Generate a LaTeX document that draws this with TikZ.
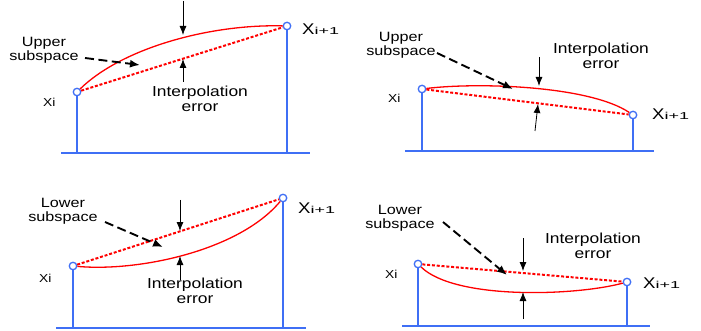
\documentclass[tikz,border=0pt]{standalone}
\usepackage{fontspec}
\newfontfamily\lblfont[FakeStretch=1.2]{Liberation Sans}
\newfontfamily\idxfont[FakeStretch=1.8]{Liberation Sans}
\usetikzlibrary{arrows.meta}
\definecolor{stemblue}{HTML}{3F6FF5}
\definecolor{curvered}{HTML}{FF0000}
\newcommand\xnext{X{\fontsize{10}{11}\idxfont i+1}}

\begin{document}
\begin{tikzpicture}[x=1pt, y=-1pt,
  stem/.style={stemblue, line width=1.6pt},
  pin/.style={circle, draw=stemblue, fill=white, line width=1.3pt,
              inner sep=0pt, minimum size=7.5pt},
  fitcurve/.style={curvered, line width=1.3pt},
  chord/.style={curvered, line width=2pt, dash pattern=on 3pt off 1.8pt},
  err/.style={-{Latex[length=9pt,width=7pt]}, line width=0.8pt},
  hint/.style={-{Latex[length=10pt,width=8pt]}, line width=1.9pt,
               dash pattern=on 9pt off 4.5pt},
  lbl/.style={font=\fontsize{13.5}{14}\lblfont, align=center},
  errlbl/.style={font=\fontsize{14.5}{15.5}\lblfont, align=center},
  xsmall/.style={font=\fontsize{11.5}{12}\lblfont, anchor=base west, inner sep=0pt},
  xbig/.style={font=\fontsize{15.5}{16}\lblfont, anchor=base west, inner sep=0pt}]
  \useasboundingbox (0,0) rectangle (701,331);

  % upper subspace, rising
  \coordinate (b1l) at (61,153); \coordinate (b1r) at (310,153);
  \node[pin] (p1a) at (77,92) {};
  \node[pin] (p1b) at (287,26) {};
  \draw[stem] (b1l) -- (b1r);
  \draw[stem] (p1a) -- (p1a |- b1l);
  \draw[stem] (p1b) -- (p1b |- b1l);
  \draw[fitcurve] (p1a) .. controls (122,48) and (210,24) .. (p1b);
  \draw[chord] (p1a) -- (p1b);
  \coordinate (e1t) at (183,1); \coordinate (e1c) at (183,35);
  \coordinate (e1b) at (183,82); \coordinate (e1l) at (183,59);
  \draw[err] (e1t) -- (e1c);
  \draw[err] (e1b) -- (e1l);
  \coordinate (h1s) at (85,58); \coordinate (h1e) at (140,65);
  \draw[hint] (h1s) -- (h1e);
  \node[lbl] (up1) at (44,50) {Upper\\subspace};
  \node[errlbl] (ie1) at (200,99) {Interpolation\\error};
  \node[xsmall] (xi1) at (43,107) {Xi};
  \node[xbig] (xn1) at (302,35) {\xnext};

  % upper subspace, falling
  \coordinate (b2l) at (405,151); \coordinate (b2r) at (654,151);
  \node[pin] (p2a) at (422,89) {};
  \node[pin] (p2b) at (633,115) {};
  \draw[stem] (b2l) -- (b2r);
  \draw[stem] (p2a) -- (p2a |- b2l);
  \draw[stem] (p2b) -- (p2b |- b2l);
  \draw[fitcurve] (p2a) .. controls (480,82) and (590,86) .. (p2b);
  \draw[chord] (p2a) -- (p2b);
  \coordinate (e2t) at (539,57); \coordinate (e2c) at (539,86);
  \coordinate (e2b) at (535,131); \coordinate (e2l) at (538,104);
  \draw[err] (e2t) -- (e2c);
  \draw[err] (e2b) -- (e2l);
  \coordinate (h2s) at (437,53); \coordinate (h2e) at (513,89);
  \draw[hint] (h2s) -- (h2e);
  \node[lbl] (up2) at (401,45) {Upper\\subspace};
  \node[errlbl] (ie2) at (601,56) {Interpolation\\error};
  \node[xsmall] (xi2) at (388,103) {Xi};
  \node[xbig] (xn2) at (652,120) {\xnext};

  % lower subspace, rising
  \coordinate (b3l) at (56,328); \coordinate (b3r) at (306,328);
  \node[pin] (p3a) at (73,266) {};
  \node[pin] (p3b) at (283,198) {};
  \draw[stem] (b3l) -- (b3r);
  \draw[stem] (p3a) -- (p3a |- b3l);
  \draw[stem] (p3b) -- (p3b |- b3l);
  \draw[fitcurve] (p3a) .. controls (140,272) and (240,250) .. (p3b);
  \draw[chord] (p3a) -- (p3b);
  \coordinate (e3t) at (180,200); \coordinate (e3c) at (180,231);
  \coordinate (e3b) at (180,280); \coordinate (e3l) at (180,256);
  \draw[err] (e3t) -- (e3c);
  \draw[err] (e3b) -- (e3l);
  \coordinate (h3s) at (105,222); \coordinate (h3e) at (163,247);
  \draw[hint] (h3s) -- (h3e);
  \node[lbl] (lo3) at (63,211) {Lower\\subspace};
  \node[errlbl] (ie3) at (195,291) {Interpolation\\error};
  \node[xsmall] (xi3) at (39,282) {Xi};
  \node[xbig] (xn3) at (298,213) {\xnext};

  % lower subspace, falling
  \coordinate (b4l) at (402,326); \coordinate (b4r) at (650,326);
  \node[pin] (p4a) at (418,264) {};
  \node[pin] (p4b) at (627,282) {};
  \draw[stem] (b4l) -- (b4r);
  \draw[stem] (p4a) -- (p4a |- b4l);
  \draw[stem] (p4b) -- (p4b |- b4l);
  \draw[fitcurve] (p4a) .. controls (455,300) and (575,296) .. (p4b);
  \draw[chord] (p4a) -- (p4b);
  \coordinate (e4t) at (523,238); \coordinate (e4c) at (523,271);
  \coordinate (e4b) at (523,319); \coordinate (e4l) at (523,292);
  \draw[err] (e4t) -- (e4c);
  \draw[err] (e4b) -- (e4l);
  \coordinate (h4s) at (443,222); \coordinate (h4e) at (507,275);
  \draw[hint] (h4s) -- (h4e);
  \node[lbl] (lo4) at (400,218) {Lower\\subspace};
  \node[errlbl] (ie4) at (593,246) {Interpolation\\error};
  \node[xsmall] (xi4) at (385,278) {Xi};
  \node[xbig] (xn4) at (643,288) {\xnext};
\end{tikzpicture}
\end{document}
